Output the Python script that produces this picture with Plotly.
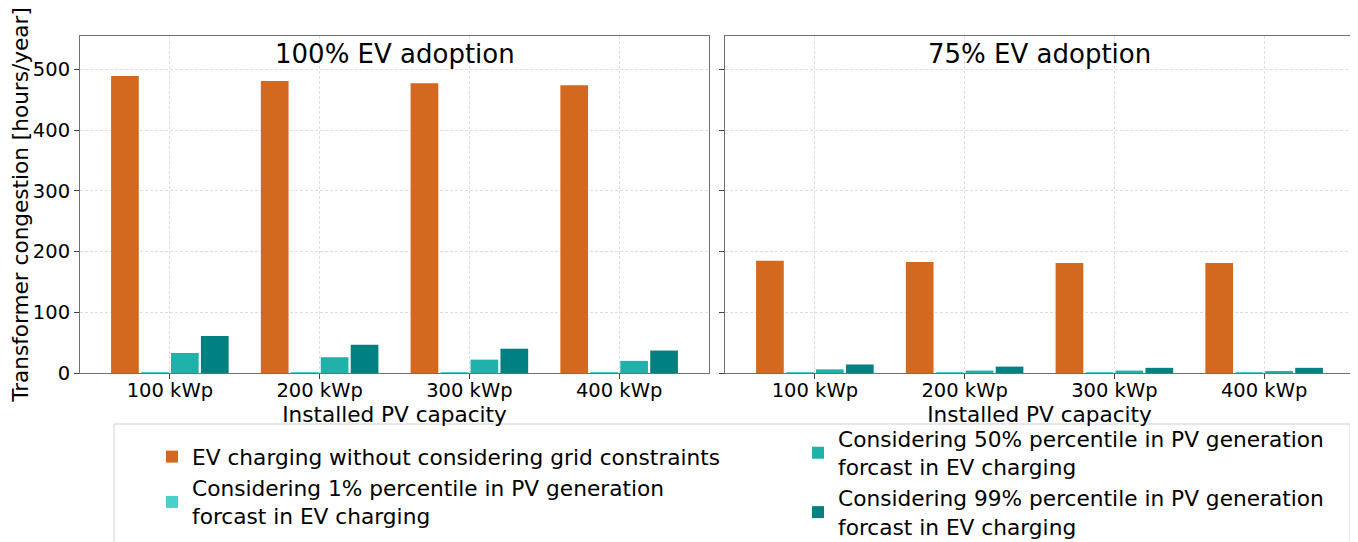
import plotly.graph_objects as go
from plotly.subplots import make_subplots

# ---------------- data ----------------
categories = ["100 kWp", "200 kWp", "300 kWp", "400 kWp"]
panel_titles = ["100% EV adoption", "75% EV adoption"]
series_names = [
    "EV charging without considering grid constraints",
    "Considering 1% percentile in PV generation<br>forcast in EV charging",
    "Considering 50% percentile in PV generation<br>forcast in EV charging",
    "Considering 99% percentile in PV generation<br>forcast in EV charging",
]
series_colors = ["#D2691E", "#48D1CC", "#20B2AA", "#008080"]

no_constraints_100 = [489, 481, 477, 474]
p1_100 = [1.5, 1.5, 1.5, 1.5]
p50_100 = [33, 26, 22, 20]
p99_100 = [61, 46.5, 40, 37]

no_constraints_75 = [185, 183, 181, 181]
p1_75 = [1.5, 1.5, 1.5, 1.5]
p50_75 = [6, 4, 4, 3]
p99_75 = [14, 10.5, 8.5, 8.5]

panel_data = [
    [no_constraints_100, p1_100, p50_100, p99_100],
    [no_constraints_75, p1_75, p50_75, p99_75],
]

# ---------------- figure ----------------
FONT = "DejaVu Sans"
OFF = 8  # default page body margin
W, H = 1358 - OFF, 542 - OFF
ML, MT = 80 - OFF, 36 - OFF
MR = W - (1354 - OFF)
MB = H - (373 - OFF)
PW, PH = W - ML - MR, H - MT - MB


def px_x(px):
    return (px - OFF - ML) / PW


def px_y(py):
    return (H - MB - (py - OFF)) / PH


fig = make_subplots(rows=1, cols=2, shared_yaxes=False,
                    horizontal_spacing=16 / PW)

legend_ids = ["legend", "legend", "legend2", "legend2"]
for c, values in enumerate(panel_data):
    for s, (name, color, vals) in enumerate(zip(series_names, series_colors, values)):
        fig.add_trace(
            go.Bar(
                x=categories, y=vals, name=name,
                marker=dict(color=color, line=dict(width=0)),
                showlegend=(c == 0),
                legend=legend_ids[s],
                legendgroup=name,
            ),
            row=1, col=c + 1,
        )

axis_common = dict(
    showline=True, mirror=True, linecolor="#707070", linewidth=1,
    ticks="outside", ticklen=5, tickcolor="#444444",
    showgrid=True, gridcolor="#dedede", griddash="3px,2px", gridwidth=1,
    tickfont=dict(family=FONT, size=19.5, color="#000000"),
    zeroline=False, automargin=False,
)

for c in (1, 2):
    fig.update_xaxes(
        **axis_common, type="category", range=[-0.6, 3.6],
        ticklabelstandoff=-5,
        title=dict(text="Installed PV capacity",
                   font=dict(family=FONT, size=21.6, color="#000000"),
                   standoff=0),
        row=1, col=c,
    )
    fig.update_yaxes(
        **axis_common, range=[0, 555], tickvals=[0, 100, 200, 300, 400, 500],
        row=1, col=c,
    )

fig.update_yaxes(
    title=dict(text="Transformer congestion [hours/year]",
               font=dict(family=FONT, size=21.6, color="#000000"), standoff=14),
    row=1, col=1,
)
fig.update_yaxes(showticklabels=False, row=1, col=2)

# panel titles
for c, t in enumerate(panel_titles):
    xa = fig.layout["xaxis" if c == 0 else "xaxis2"]
    xc = (xa.domain[0] + xa.domain[1]) / 2
    fig.add_annotation(
        text=t, x=xc, y=px_y(54), xref="paper", yref="paper",
        xanchor="center", yanchor="middle", showarrow=False,
        font=dict(family=FONT, size=26, color="#000000"),
    )

# legend frame
fig.add_shape(
    type="rect", xref="paper", yref="paper",
    x0=px_x(114), x1=px_x(1350), y0=px_y(424), y1=px_y(570),
    line=dict(color="#d0d0d0", width=1), fillcolor="rgba(255,255,255,0)",
)

legend_font = dict(family=FONT, size=21.7, color="#000000")
fig.update_layout(
    width=W, height=H,
    margin=dict(l=ML, r=MR, t=MT, b=MB, autoexpand=False),
    paper_bgcolor="white", plot_bgcolor="white",
    barmode="group", bargap=0.2, bargroupgap=0.075,
    legend=dict(x=px_x(152), y=px_y(436), xanchor="left", yanchor="top",
                orientation="v", font=legend_font, bgcolor="rgba(0,0,0,0)",
                tracegroupgap=0, itemwidth=30),
    legend2=dict(x=px_x(798), y=px_y(418), xanchor="left", yanchor="top",
                 orientation="v", font=legend_font, bgcolor="rgba(0,0,0,0)",
                 tracegroupgap=0, itemwidth=30),
)

fig.write_html("out.html")
